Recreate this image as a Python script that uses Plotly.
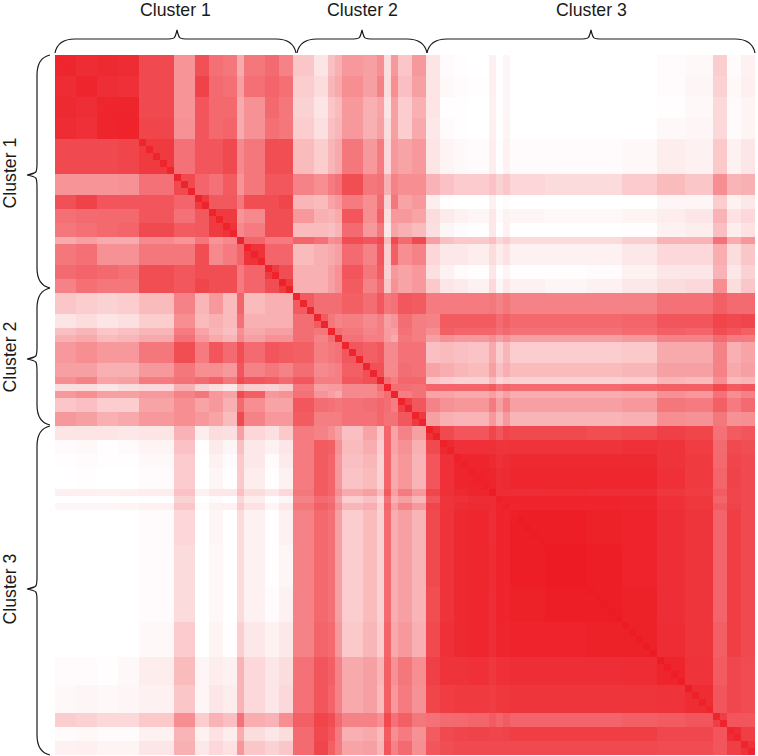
import numpy as np
import plotly.graph_objects as go

# Width (in items) of each band of similar rows/columns, in the order of the axes
band_sizes = [3,3,3,3,5,3,2,2,2,1,3,2,2,
              3,2,1,1,3,2,1,1,1,2,2,
              2,2,2,3,1,1,1,5,6,5,5,4,4,2,2,2]

# Similarity (percent), upper triangle by band: each row starts on its own diagonal band
tri_rows = [
 [95,93,94,93,80,47,77,63,60,37,60,65,55, 25,12,28,35,45,42,50,15,45,25,45, 12,2,1,0,7,0,4,0,0,0,0,2,3,22,2,6],
 [96,92,91,80,47,83,65,63,42,63,68,63, 22,15,32,38,50,42,55,15,50,28,42, 12,3,2,1,7,0,4,0,0,0,0,2,4,20,3,7],
 [95,96,80,47,75,66,66,37,48,66,60, 20,12,25,30,45,35,40,12,42,22,35, 12,1,1,0,6,0,4,0,0,0,0,1,3,17,2,5],
 [97,82,48,75,66,68,37,48,63,60, 22,14,28,32,45,35,42,15,42,22,38, 10,2,1,0,7,0,5,0,0,0,0,3,4,17,2,5],
 [87,62,75,75,80,52,60,78,78, 30,22,32,38,60,45,58,18,45,40,45, 12,5,3,2,8,1,6,2,2,2,3,8,6,24,6,11],
 [80,68,62,72,47,60,74,74, 55,50,58,62,78,60,62,35,55,50,50, 34,27,23,23,27,20,25,18,16,16,23,30,25,50,33,35],
 [87,73,73,60,78,78,82, 32,30,40,45,58,50,65,20,60,40,45, 8,1,0,0,6,0,2,0,0,0,0,4,4,22,6,10],
 [87,87,47,52,78,78, 45,35,33,38,75,50,70,15,45,45,40, 15,9,6,4,10,2,6,4,3,3,5,8,11,34,13,17],
 [90,52,58,78,78, 30,30,28,33,65,45,60,10,40,35,30, 14,4,2,1,10,0,6,0,0,0,1,6,8,28,8,13],
 [95,68,58,58, 68,62,50,52,78,75,80,30,80,65,80, 42,28,24,24,28,18,23,16,16,16,21,34,34,62,36,46],
 [90,68,68, 30,35,38,42,65,55,75,22,70,50,55, 18,10,10,8,15,8,13,6,6,6,10,17,17,36,15,25],
 [87,78, 35,35,42,48,75,60,72,20,45,40,45, 14,6,2,1,11,1,4,1,1,2,6,11,11,34,11,20],
 [87, 35,35,42,48,72,55,65,25,48,40,45, 24,11,9,6,17,4,11,6,4,6,10,15,17,50,15,25],
 [72,64,64,64,70,64,74,60,62,74,72, 58,58,58,58,60,55,60,55,55,55,55,62,62,70,65,65],
 [72,60,54,57,52,57,42,47,64,57, 55,72,72,72,72,65,70,66,66,66,68,75,75,82,80,82],
 [82,64,60,54,57,44,42,62,57, 50,70,68,68,68,62,66,62,62,62,65,70,68,78,75,70],
 [84,62,57,57,44,37,60,57, 42,48,45,45,50,42,48,42,42,42,45,55,55,65,58,58],
 [74,70,74,52,52,62,62, 28,30,28,26,38,22,32,22,22,22,24,38,38,55,35,40],
 [77,77,52,52,64,62, 40,36,32,30,42,28,36,30,30,30,32,42,42,55,38,42],
 [95,64,57,67,67, 25,22,20,20,30,18,22,20,20,20,22,32,30,50,30,32],
 [95,64,64,62, 68,68,68,68,72,62,68,65,65,65,68,70,70,80,72,75],
 [95,57,62, 40,40,38,38,42,35,42,36,36,36,38,48,45,62,50,55],
 [84,74, 55,48,46,46,58,42,55,42,42,42,45,60,58,70,58,65],
 [87, 42,35,33,33,45,32,45,33,33,33,35,50,48,60,48,50],
 [91,80,75,75,82,75,82,80,80,78,80,84,82,62,72,75],
 [94,91,91,91,89,89,90,90,90,91,90,86,65,80,78],
 [96,96,94,91,93,94,94,94,94,90,87,66,82,80],
 [97,96,93,94,95,95,95,95,91,87,68,83,80],
 [100,93,93,92,93,92,92,88,86,72,82,80],
 [98,96,97,97,97,96,91,88,68,82,80],
 [98,96,96,96,95,91,88,72,83,80],
 [99,99,98,97,92,89,68,85,80],
 [100,99,97,92,89,68,85,80],
 [99,98,92,89,68,85,80],
 [98,93,89,70,85,80],
 [96,90,72,81,79],
 [93,75,81,79],
 [85,75,75],
 [93,85],
 [90],
]

# Self-similarity of each item (percent)
diagonal = [96,96,96,96,96,96,96,96,97,97,97,97,
            96,96,96,96,96,97,97,97,97,97,97,97,97,97,97,97,97,97,97,97,98,98,
            96,96,96,96,96,96,96,96,96,96,96,96,97,97,97,97,97,97,97,
            98,98,98,98,98,98,98,98,98,100,98,98,98,100,100,100,100,100,100,100,
            100,100,100,100,100,100,100,100,100,100,100,100,100,100,99,99,99,99,98,98,
            96,96,96,96,96,96,96]

cluster_names = ["Cluster 1", "Cluster 2", "Cluster 3"]
cluster_sizes = [34, 19, 47]

n_b = len(band_sizes)
B = np.zeros((n_b, n_b))
for i, row in enumerate(tri_rows):
    assert len(row) == n_b - i, (i, len(row))
    B[i, i:] = row
    B[i:, i] = row
Z = np.repeat(np.repeat(B, band_sizes, axis=0), band_sizes, axis=1)
assert Z.shape == (100, 100) and len(diagonal) == 100, (Z.shape, len(diagonal))
Z[np.arange(100), np.arange(100)] = diagonal

W, H = 758, 756
L, T, S = 55, 55, 700

fig = go.Figure(go.Heatmap(
    z=Z, x=np.arange(100) + 0.5, y=np.arange(100) + 0.5,
    zmin=0, zmax=100, showscale=False,
    colorscale=[[0, "#ffffff"], [1, "#ed1c24"]],
    hoverinfo="skip",
))

def px(x): return (x - L) / S
def py(y): return 1 - (y - T) / S

def hbrace(x0, xm, x1):
    return [(x0, 53), (x0 + 2, 43), (x0 + 9, 39), (x0 + 20, 39), (xm - 12, 39), (xm - 2, 39), (xm, 30),
            (xm + 2, 39), (xm + 12, 39), (x1 - 20, 39), (x1 - 9, 39), (x1 - 2, 43), (x1, 53)]

def vbrace(y0, ym, y1):
    return [(50, y0), (41, y0 + 2), (37, y0 + 9), (37, y0 + 20), (37, ym - 12), (37, ym - 2), (27, ym),
            (37, ym + 2), (37, ym + 12), (37, y1 - 20), (37, y1 - 9), (41, y1 - 2), (50, y1)]

def path(p):
    f = lambda q: f"{px(q[0]):.5f},{py(q[1]):.5f}"
    return (f"M{f(p[0])} C{f(p[1])} {f(p[2])} {f(p[3])} L{f(p[4])} C{f(p[5])} {f(p[5])} {f(p[6])} "
            f"C{f(p[7])} {f(p[7])} {f(p[8])} L{f(p[9])} C{f(p[10])} {f(p[11])} {f(p[12])}")

top = [(55, 177, 296), (297, 362, 427), (427, 591, 755)]
side = [(55, 175, 288), (288, 359, 425), (426, 589, 755)]
top_label_x = [175.5, 362, 591]
side_label_y = [173, 357, 589]
shapes = []
for a in top:
    shapes.append(dict(type="path", path=path(hbrace(*a)), xref="paper", yref="paper",
                       line=dict(color="#1a1a1a", width=1.2), layer="above"))
for a in side:
    shapes.append(dict(type="path", path=path(vbrace(*a)), xref="paper", yref="paper",
                       line=dict(color="#1a1a1a", width=1.2), layer="above"))

annots = []
font = dict(family="Liberation Sans", size=17.7, color="#1a1a1a")
for name, tx, sy in zip(cluster_names, top_label_x, side_label_y):
    annots.append(dict(text=name, x=px(tx), y=py(10.5), xref="paper", yref="paper",
                       showarrow=False, font=font, xanchor="center", yanchor="middle"))
    annots.append(dict(text=name, x=px(9.5), y=py(sy), xref="paper", yref="paper",
                       showarrow=False, font=font, textangle=-90, xanchor="center", yanchor="middle"))

fig.update_layout(
    width=W, height=H, autosize=False,
    margin=dict(l=L, t=T, r=W - L - S, b=H - T - S),
    paper_bgcolor="white", plot_bgcolor="white",
    xaxis=dict(range=[0, 100], visible=False, fixedrange=True),
    yaxis=dict(range=[100, 0], visible=False, fixedrange=True),
    shapes=shapes, annotations=annots,
)
fig.write_html("out.html", config=dict(displayModeBar=False),
               post_script="document.body.style.margin='0';document.body.style.overflow='hidden';")
